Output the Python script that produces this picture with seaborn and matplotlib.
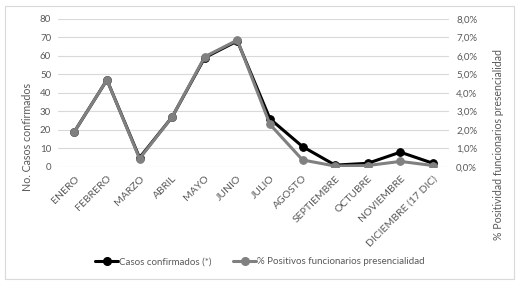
import matplotlib
matplotlib.use("Agg")
import matplotlib.pyplot as plt
import seaborn as sns
import pandas as pd
from matplotlib.ticker import FuncFormatter
from matplotlib.lines import Line2D
from matplotlib.patches import Rectangle

meses = ["ENERO", "FEBRERO", "MARZO", "ABRIL", "MAYO", "JUNIO", "JULIO",
         "AGOSTO", "SEPTIEMBRE", "OCTUBRE", "NOVIEMBRE", "DICIEMBRE (17 DIC)"]
casos = [19, 47, 5, 27, 59, 68, 26, 11, 1, 2, 8, 2]
positividad = [1.9, 4.7, 0.45, 2.7, 5.95, 6.85, 2.3, 0.38, 0.05, 0.08, 0.3, 0.08]

sns.set_style("white")
plt.rcParams['font.family'] = ['Lato', 'DejaVu Sans']

df = pd.DataFrame({"mes": meses, "idx": range(len(meses)),
                   "casos": casos, "pos": positividad})

fig = plt.figure(figsize=(5.23, 2.84), dpi=100)
ax = fig.add_axes([0.111, 0.412, 0.748, 0.522])
ax2 = ax.twinx()

tc = "#595959"
sns.lineplot(data=df, x="idx", y="casos", ax=ax, color="black", lw=2.2,
             marker="o", markersize=5.5, markeredgecolor="black", zorder=3)
sns.lineplot(data=df, x="idx", y="pos", ax=ax2, color="#808080", lw=2.2,
             marker="o", markersize=5.5, markeredgecolor="#808080", zorder=4)

ax.set_ylim(0, 80)
ax.set_yticks(range(0, 81, 10))
ax2.set_ylim(0, 8)
ax2.set_yticks(range(0, 9))
ax2.yaxis.set_major_formatter(FuncFormatter(lambda v, p: f"{v:.1f}%".replace(".", ",")))
ax.set_xlim(-0.5, len(meses) - 0.5)
ax.set_xticks(range(len(meses)))
ax.set_xticklabels(meses, rotation=45, ha="right", rotation_mode="anchor")

ax.grid(axis="y", color="#d9d9d9", lw=0.8)
ax.set_axisbelow(True)
for a in (ax, ax2):
    for s in a.spines.values():
        s.set_visible(False)
    a.tick_params(length=0, labelsize=7, colors=tc, pad=5)
ax.tick_params(axis="x", labelsize=7.5, pad=5)

ax.set_xlabel("")
ax.set_ylabel("")
ax2.set_ylabel("")
fig.text(28 / 523, 1 - 137 / 284, "No. Casos confirmados", rotation=90,
         ha="center", va="center", fontsize=7.7, color=tc)
fig.text(499 / 523, 1 - 144.5 / 284, "% Positividad funcionarios presencialidad",
         rotation=90, ha="center", va="center", fontsize=7.6, color=tc)

handles = [Line2D([], [], color="black", lw=2.2, marker="o", markersize=5.5),
           Line2D([], [], color="#808080", lw=2.2, marker="o", markersize=5.5)]
fig.legend(handles, ["Casos confirmados (*)", "% Positivos funcionarios presencialidad"],
           loc="center", bbox_to_anchor=(0.497, 0.078), ncol=2, frameon=False,
           fontsize=7, labelcolor=tc, handlelength=2.4, handletextpad=0.1,
           columnspacing=2.2)

fig.patches.append(Rectangle((0.01, 0.018), 0.972, 0.962, transform=fig.transFigure,
                             fill=False, edgecolor="#d9d9d9", lw=0.8))

fig.savefig("out.png", dpi=100)
